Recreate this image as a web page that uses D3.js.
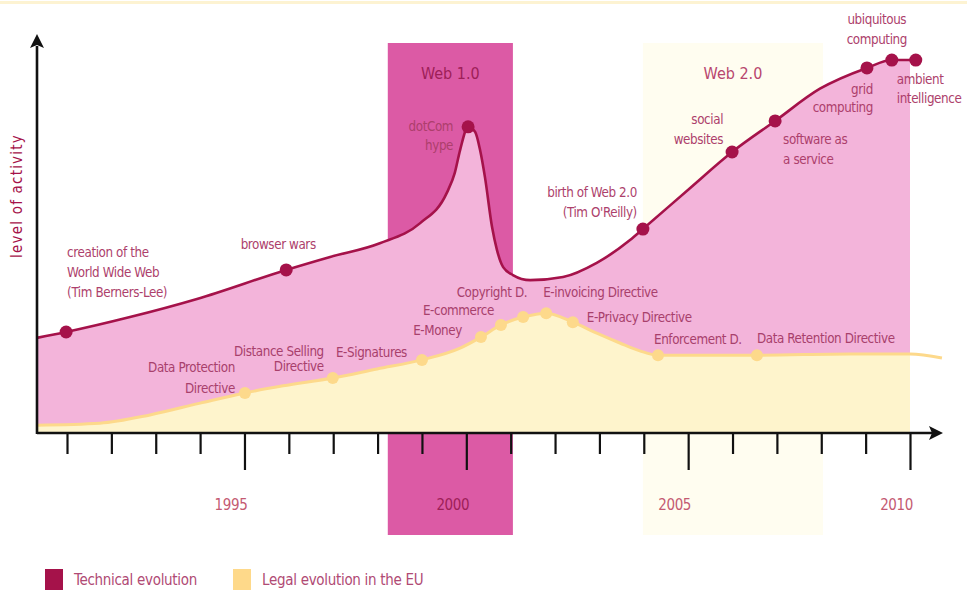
<!DOCTYPE html>
<html><head><meta charset="utf-8">
<script src="https://cdn.jsdelivr.net/npm/d3@7"></script>
<style>
html,body{margin:0;padding:0;background:#fff;}
text{font-family:"Liberation Sans Narrow","DejaVu Sans Condensed",Roboto,sans-serif;}
</style></head>
<body><svg id="c" width="967" height="591"></svg>
<script>
// ---- data ----
const techYears  = [1990.32,1990.98,1992.42,1993.93,1995.94,1996.93,1998.05,1998.96,1999.56,1999.74,1999.86,2000.04,2000.2,2000.31,2000.42,2000.58,2000.69,2000.83,2001.05,2001.44,2002.18,2002.94,2003.69,2003.98,2005.04,2005.99,2006.96,2007.97,2009.03,2009.59,2010.13];
const techValues = [24.2,25.7,29.5,34.1,41.5,44.8,48.3,53.4,61.1,66.2,72.0,77.9,76.6,72.0,65.1,52.4,46.6,42.2,40.2,38.9,39.7,43.3,49.1,51.9,62.3,71.5,79.4,87.6,92.9,94.9,94.9];
const legalYears  = [1990.32,1991.74,1992.87,1994.0,1995.01,1995.87,1996.99,1997.99,1999.0,1999.86,2000.33,2000.78,2001.28,2001.8,2002.4,2002.94,2003.46,2003.91,2004.32,2006.55,2008.65,2010.0,2010.72];
const legalValues = [2.0,2.5,4.6,7.6,10.2,12.0,14.0,16.3,18.6,21.6,24.4,27.5,29.5,30.5,28.2,25.4,22.9,20.9,19.8,19.8,20.1,20.1,19.1];

const techEventLabels = [["creation of the","World Wide Web","(Tim Berners-Lee)"],["browser wars"],["dotCom","hype"],["birth of Web 2.0","(Tim O'Reilly)"],["social","websites"],["software as","a service"],["grid","computing"],["ubiquitous","computing"],["ambient","intelligence"]];
const techEventYears  = [1990.98,1995.94,2000.04,2003.98,2005.99,2006.96,2009.03,2009.59,2010.13];
const techEventValues = [25.7,41.5,77.9,51.9,71.5,79.4,92.9,94.9,94.9];

const legalEventLabels = [["Data Protection","Directive"],["Distance Selling","Directive"],["E-Signatures"],["E-Money"],["E-commerce"],["Copyright D."],["E-invoicing Directive"],["E-Privacy Directive"],["Enforcement D."],["Data Retention Directive"]];
const legalEventYears  = [1995.01,1996.99,1999.0,2000.33,2000.78,2001.28,2001.8,2002.4,2004.32,2006.55];
const legalEventValues = [10.2,14.0,18.6,24.4,27.5,29.5,30.5,28.2,19.8,19.8];

const eras = [["Web 1.0",1998.23,2001.05],["Web 2.0",2003.98,2008.04]];
const tickYears = d3.range(1991,2011);
const majorYears = [1995,2000,2005,2010];
const legendLabels = ["Technical evolution","Legal evolution in the EU"];

// ---- layout ----
const svg = d3.select("#c");
const x = d3.scaleLinear().domain([1991,2010]).range([67,910]);
const y = d3.scaleLinear().domain([0,100]).range([433,40]);
const C = {band1:"#dc5aa5", band2:"#fffdf0", pink:"#f3b4da", cream:"#fef4cc", legalLine:"#fdd98b",
  tech:"#a5124a", label:"#ad3f6c", year:"#c45a72"};

// top faint line
svg.append("rect").attr("x",0).attr("y",1).attr("width",967).attr("height",3).attr("fill","#fdf3d2");

// era bands
const bandTop = 43, bandBottom = 535;
svg.selectAll("rect.era").data(eras).join("rect").attr("class","era")
  .attr("x",d=>x(d[1])).attr("width",d=>x(d[2])-x(d[1]))
  .attr("y",bandTop).attr("height",bandBottom-bandTop)
  .attr("fill",(d,i)=>i===0?C.band1:C.band2);
svg.selectAll("text.era").data(eras).join("text").attr("class","era")
  .attr("x",d=>(x(d[1])+x(d[2]))/2).attr("y",79).attr("text-anchor","middle")
  .attr("font-size",16).attr("fill",(d,i)=>i===0?"#9e1f58":"#b8466e").text(d=>d[0]);

// clip areas at 2010
svg.append("clipPath").attr("id","clipA").append("rect")
  .attr("x",37).attr("y",0).attr("width",x(2010)-37).attr("height",433);

const tech = techYears.map((t,i)=>[t,techValues[i]]);
const legal = legalYears.map((t,i)=>[t,legalValues[i]]);
const curve = d3.curveMonotoneX;

const area = d3.area().x(d=>x(d[0])).y0(y(0)).y1(d=>y(d[1])).curve(curve);
const line = d3.line().x(d=>x(d[0])).y(d=>y(d[1])).curve(curve);

svg.append("path").datum(tech).attr("d",area).attr("fill",C.pink).attr("clip-path","url(#clipA)");
svg.append("path").datum(legal).attr("d",area).attr("fill",C.cream).attr("clip-path","url(#clipA)");
svg.append("path").datum(legal).attr("d",line).attr("fill","none").attr("stroke",C.legalLine).attr("stroke-width",3);
svg.append("path").datum(tech).attr("d",line).attr("fill","none").attr("stroke",C.tech).attr("stroke-width",2.6);

// markers
svg.selectAll("circle.tech").data(techEventYears).join("circle")
  .attr("cx",d=>x(d)).attr("cy",(d,i)=>y(techEventValues[i])).attr("r",6.5).attr("fill",C.tech);
svg.selectAll("circle.legal").data(legalEventYears).join("circle")
  .attr("cx",d=>x(d)).attr("cy",(d,i)=>y(legalEventValues[i])).attr("r",6).attr("fill",C.legalLine);

// label placement (dx, dy of first baseline, anchor, line spacing)
const techPlace = [[1,-75,"start",20],[-8,-21,"middle",20],[-15,4,"end",19],[-6,-32,"end",20],[-9,-28,"end",20],[8,23,"start",20],[6,26,"end",18],[-15,-36,"middle",20],[-19,24,"start",19]];
const legalPlace = [[-10,-21,"end",21],[-9,-22,"end",15],[-15,-3,"end",0],[-19,-2,"end",0],[-7,-10,"end",0],[4,-20,"end",0],[-3,-16,"start",0],[14,0,"start",0],[-4,-11,"start",0],[0,-12,"start",0]];

function labels(lbls, yrs, vals, place, color){
  lbls.forEach((lines,i)=>{
    const p = place[i];
    const t = svg.append("text").attr("font-size",13.3).attr("fill",color)
      .attr("text-anchor",p[2]).attr("letter-spacing","-0.4px");
    lines.forEach((s,j)=>{
      t.append("tspan").attr("x",x(yrs[i])+p[0]).attr("y",y(vals[i])+p[1]+j*p[3]).text(s);
    });
  });
}
labels(techEventLabels, techEventYears, techEventValues, techPlace, C.label);
labels(legalEventLabels, legalEventYears, legalEventValues, legalPlace, "#a8406c");

// axes
const minorAxis = d3.axisBottom(x).tickValues(tickYears.filter(v=>!majorYears.includes(v))).tickSize(21).tickFormat("");
const majorAxis = d3.axisBottom(x).tickValues(majorYears).tickSize(37).tickPadding(29).tickFormat(d3.format("d"));
const gMin = svg.append("g").attr("transform","translate(0,433)").call(minorAxis);
const gMaj = svg.append("g").attr("transform","translate(0,433)").call(majorAxis);
[gMin,gMaj].forEach(g=>{ g.select(".domain").remove(); g.selectAll("line").attr("stroke","#111").attr("stroke-width",2.2); });
gMaj.selectAll("text").attr("font-size",15).attr("fill",d=>d===2000?"#9e1f58":C.year).attr("dx",-14)
  .attr("letter-spacing","-0.4px")
  .attr("font-family",'"Liberation Sans Narrow","DejaVu Sans Condensed",Roboto,sans-serif');

// axis lines with arrows
svg.append("line").attr("x1",37).attr("y1",433).attr("x2",932).attr("y2",433).attr("stroke","#111").attr("stroke-width",2.6);
svg.append("line").attr("x1",37).attr("y1",434).attr("x2",37).attr("y2",46).attr("stroke","#111").attr("stroke-width",2.6);
svg.append("path").attr("d","M943,433 L929,426 L932,433 L929,440 Z").attr("fill","#111");
svg.append("path").attr("d","M37,34 L30,48 L37,45 L44,48 Z").attr("fill","#111");

// y label
svg.append("text").attr("transform","translate(22,196) rotate(-90)").attr("text-anchor","middle")
  .attr("font-size",15).attr("letter-spacing","1.2px").attr("fill",C.tech).text("level of activity");

// legend
const legColors = [C.tech,"#fed98a"];
const legX = [45,233];
legendLabels.forEach((s,i)=>{
  svg.append("rect").attr("x",legX[i]).attr("y",569).attr("width",18).attr("height",21).attr("fill",legColors[i]);
  svg.append("text").attr("x",legX[i]+29).attr("y",585).attr("font-size",15).attr("fill","#b04a74")
    .attr("letter-spacing","-0.3px").text(s);
});
</script></body></html>
